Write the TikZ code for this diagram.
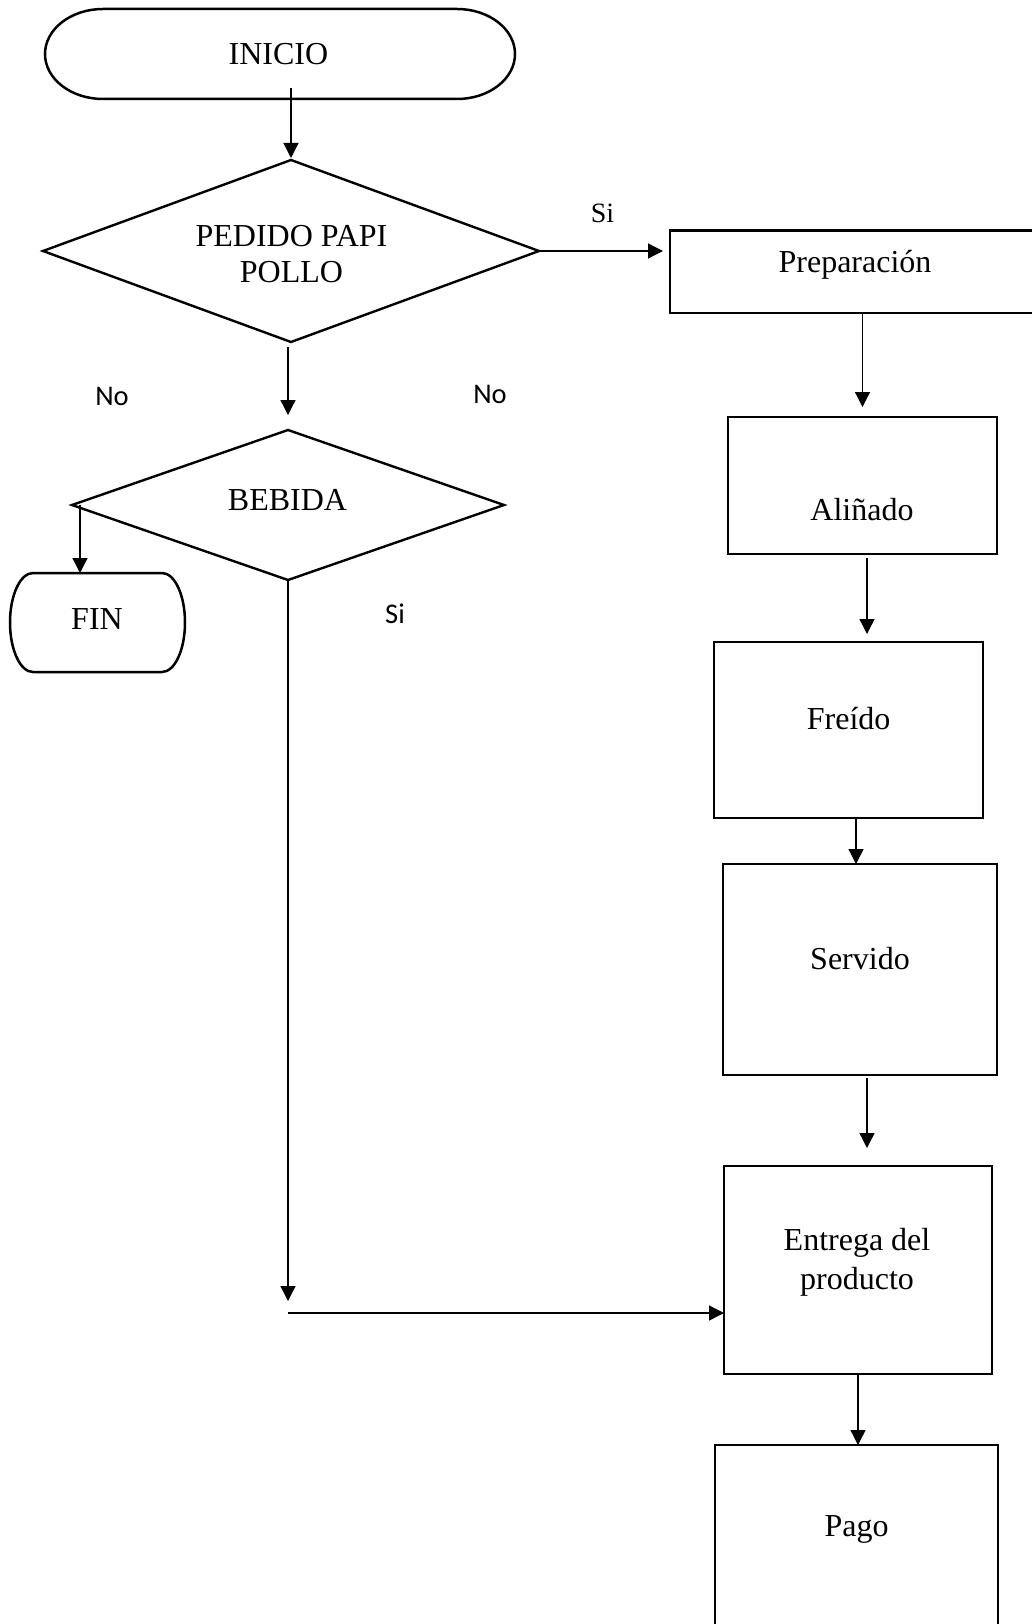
\documentclass[tikz,border=0pt]{standalone}
\usepackage{fontspec}
\setmainfont{Liberation Serif}
\newfontfamily\sansf{Carlito}
\usetikzlibrary{shapes.geometric,arrows.meta,calc}
\newcommand\stadiumoutline[3]{%
  \draw[shapeline] ([xshift=#2]#1.north west) -- ([xshift=-#2]#1.north east)
    arc[start angle=90,end angle=-90,x radius=#2,y radius=#3]
    -- ([xshift=#2]#1.south west)
    arc[start angle=270,end angle=90,x radius=#2,y radius=#3] -- cycle;}
\begin{document}
\begin{tikzpicture}[x=1pt,y=1pt,
  shapeline/.style={line width=2.5pt,black},
  termnode/.style={rectangle,draw=none,inner sep=0pt,outer sep=0pt},
  decnode/.style={diamond,draw,line width=2.4pt,inner sep=0pt,outer sep=0pt},
  boxnode/.style={rectangle,draw,line width=2.6pt,inner sep=0pt,outer sep=0pt},
  txt/.style={font=\fontsize{32}{36}\selectfont,inner sep=0pt,anchor=base},
  lbl/.style={font=\sansf\fontsize{28.5}{32}\selectfont,inner sep=0pt,anchor=base},
  arr/.style={line width=1.3pt,-{Triangle[length=15pt,width=15pt]}},
  ln/.style={line width=1.3pt}]
\fill[white] (0,0) rectangle (1032,-1624);
\useasboundingbox (0,0) rectangle (1032,-1624);

% shapes
\node[termnode,minimum width=470pt,minimum height=90pt] (ini) at (280,-54) {};
\stadiumoutline{ini}{58}{45}
\node[decnode,minimum width=496pt,minimum height=182pt] (d1) at (291,-251) {};
\node[decnode,minimum width=432pt,minimum height=150pt] (d2) at (288,-505) {};
\node[termnode,minimum width=175pt,minimum height=99pt] (fin) at (97.5,-622.5) {};
\stadiumoutline{fin}{23}{49.5}
\node[boxnode,minimum width=375pt,minimum height=82.5pt] (prep) at (857.5,-271.75) {};
\node[boxnode,minimum width=269pt,minimum height=137pt] (alin) at (862.5,-485.5) {};
\node[boxnode,minimum width=269pt,minimum height=176pt] (freido) at (848.5,-730) {};
\node[boxnode,minimum width=274pt,minimum height=211pt] (servido) at (860,-969.5) {};
\node[boxnode,minimum width=268pt,minimum height=208pt] (entrega) at (858,-1270) {};
\node[boxnode,minimum width=283pt,minimum height=195pt] (pago) at (856.5,-1542.5) {};

% texts
\node[txt] (tini) at (278.5,-64.3) {INICIO};
\node[txt,anchor=center,align=center] (td1) at (291.5,-254.4) {PEDIDO PAPI\\POLLO};
\node[txt] (td2) at (287.5,-510) {BEBIDA};
\node[txt] (tfin) at (97,-629) {FIN};
\node[txt] (tprep) at (855,-272) {Preparación};
\node[txt] (talin) at (862,-520) {Aliñado};
\node[txt] (tfreido) at (848.7,-729) {Freído};
\node[txt] (tservido) at (860,-969) {Servido};
\node[txt,anchor=center,align=center,font=\fontsize{32}{38.5}\selectfont] (tentrega) at (857,-1262.3) {Entrega del\\producto};
\node[txt] (tpago) at (856.5,-1536) {Pago};

% labels
\node[txt,font=\fontsize{28}{32}\selectfont] (lsi1) at (602.5,-222.7) {Si};
\node[lbl] (lno1) at (112,-405) {No};
\node[lbl] (lno2) at (490,-403) {No};
\node[lbl] (lsi2) at (395,-623) {Si};

% connectors
\draw[arr] ($(ini.south -| d1.north)+(0,11)$) -- ($(d1.north)+(0,2)$);
\draw[arr] ($(d1.south -| d2.north)+(0,-5)$) -- ($(d2.north)+(0,15)$);
\draw[arr] (d1.east) -- ($(d1.east -| prep.west)+(-7,0)$);
\draw[arr] ($(d2.west)+(8,0)$) coordinate (f0) -- (f0 |- fin.north);
\coordinate (bend) at ($(d2.south |- entrega.west)+(0,-43)$);
\draw[arr] (d2.south) -- ($(bend)+(0,12)$);
\draw[arr] (bend) -- (bend -| entrega.west);
\draw[arr] (alin.north |- prep.south) -- ($(alin.north)+(0,10)$);
\draw[arr] ($(alin.south)+(4.5,-4)$) coordinate (a0) -- ($(a0 |- freido.north)+(0,8)$);
\draw[arr] ($(freido.south)+(7.5,0)$) coordinate (f1) -- (f1 |- servido.north);
\draw[arr] ($(servido.south)+(7,-3)$) coordinate (s0) -- ($(s0 |- entrega.north)+(0,18)$);
\draw[arr] (entrega.south) -- (entrega.south |- pago.north);
\end{tikzpicture}
\end{document}
